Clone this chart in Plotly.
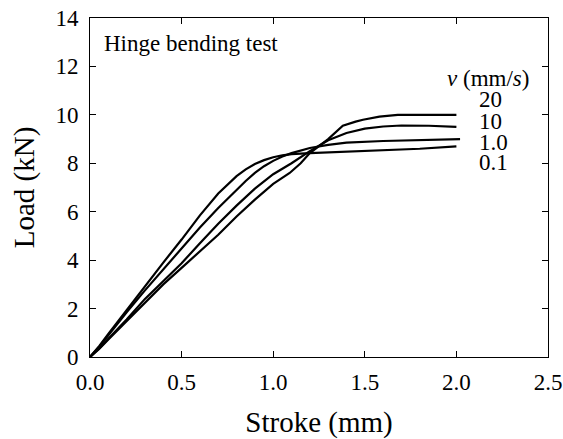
import plotly.graph_objects as go

speeds = ["20", "10", "1.0", "0.1"]

stroke_20 = [0.0, 0.05, 0.1, 0.2, 0.3, 0.4, 0.5, 0.6, 0.7, 0.8, 0.9, 1.0, 1.05, 1.09, 1.15, 1.2, 1.3, 1.38, 1.45, 1.49, 1.58, 1.68, 1.8, 2.0]
load_20 = [0.0, 0.33, 0.72, 1.48, 2.25, 3.0, 3.68, 4.38, 5.05, 5.8, 6.5, 7.15, 7.42, 7.6, 8.0, 8.42, 9.0, 9.55, 9.72, 9.8, 9.93, 10.0, 10.0, 10.0]

stroke_10 = [0.0, 0.05, 0.1, 0.2, 0.3, 0.4, 0.5, 0.6, 0.7, 0.8, 0.9, 1.0, 1.1, 1.2, 1.3, 1.4, 1.5, 1.6, 1.7, 1.85, 2.0]
load_10 = [0.0, 0.35, 0.75, 1.55, 2.4, 3.12, 3.87, 4.7, 5.5, 6.25, 6.95, 7.55, 8.0, 8.5, 8.95, 9.25, 9.43, 9.52, 9.56, 9.55, 9.5]

stroke_1 = [0.0, 0.05, 0.1, 0.2, 0.3, 0.4, 0.5, 0.6, 0.7, 0.8, 0.85, 0.9, 0.95, 1.0, 1.05, 1.1, 1.2, 1.3, 1.4, 1.6, 1.8, 2.02]
load_1 = [0.0, 0.42, 0.9, 1.85, 2.75, 3.62, 4.5, 5.35, 6.15, 6.9, 7.27, 7.6, 7.88, 8.1, 8.28, 8.42, 8.63, 8.76, 8.85, 8.92, 8.96, 9.0]

stroke_01 = [0.0, 0.05, 0.1, 0.2, 0.3, 0.4, 0.5, 0.6, 0.7, 0.75, 0.8, 0.85, 0.9, 0.95, 1.0, 1.05, 1.1, 1.2, 1.4, 1.6, 1.8, 2.0]
load_01 = [0.0, 0.45, 0.95, 1.95, 2.95, 3.9, 4.85, 5.85, 6.75, 7.13, 7.47, 7.75, 7.97, 8.13, 8.25, 8.33, 8.38, 8.42, 8.47, 8.53, 8.6, 8.7]

x_ticks = [0.0, 0.5, 1.0, 1.5, 2.0, 2.5]
y_ticks = [0, 2, 4, 6, 8, 10, 12, 14]

FONT = "Liberation Serif, Times New Roman, Times, serif"

fig = go.Figure()
for xs, ys, name in [(stroke_20, load_20, speeds[0]), (stroke_10, load_10, speeds[1]),
                     (stroke_1, load_1, speeds[2]), (stroke_01, load_01, speeds[3])]:
    fig.add_trace(go.Scatter(x=xs, y=ys, mode="lines", name=name,
                             line=dict(color="black", width=2.2), showlegend=False))

label_y = [10.63, 9.74, 8.87, 8.02]
annotations = [
    dict(x=0.064, y=12.95, text="Hinge bending test", xanchor="left", yanchor="middle"),
    dict(x=1.94, y=11.5, text="<i>v</i> (mm/<i>s</i>)", xanchor="left", yanchor="middle"),
]
for s, yy in zip(speeds, label_y):
    annotations.append(dict(x=2.11, y=yy, text=s, xanchor="left", yanchor="middle"))
for a in annotations:
    a.update(xref="x", yref="y", showarrow=False, font=dict(family=FONT, size=23, color="black"))

axis_common = dict(showline=True, linecolor="black", linewidth=1, mirror="ticks",
                   ticks="inside", ticklen=6, tickcolor="black", tickwidth=1,
                   showgrid=False, zeroline=False, automargin=False,
                   ticklabeloverflow="allow",
                   tickfont=dict(family=FONT, size=23, color="black"))

fig.update_layout(
    width=563, height=439, autosize=False,
    margin=dict(l=90, r=15, t=18, b=82, pad=0),
    paper_bgcolor="white", plot_bgcolor="white",
    font=dict(family=FONT, color="black"),
    xaxis=dict(range=[0, 2.5], tickvals=x_ticks, ticktext=[f"{v:.1f}" for v in x_ticks],
               ticklabelstandoff=4,
               title=dict(text="Stroke (mm)", font=dict(family=FONT, size=29, color="black"), standoff=19),
               **axis_common),
    yaxis=dict(range=[0, 14], tickvals=y_ticks, ticktext=[str(v) for v in y_ticks],
               ticklabelstandoff=6,
               title=dict(text="Load (kN)", font=dict(family=FONT, size=29, color="black"), standoff=12),
               **axis_common),
    annotations=annotations,
)

# remove the default page margin so the figure sits at the window's top-left corner
fig.write_html("out.html", config={"displayModeBar": False},
               post_script="document.body.style.margin='0';document.body.style.overflow='hidden';")
